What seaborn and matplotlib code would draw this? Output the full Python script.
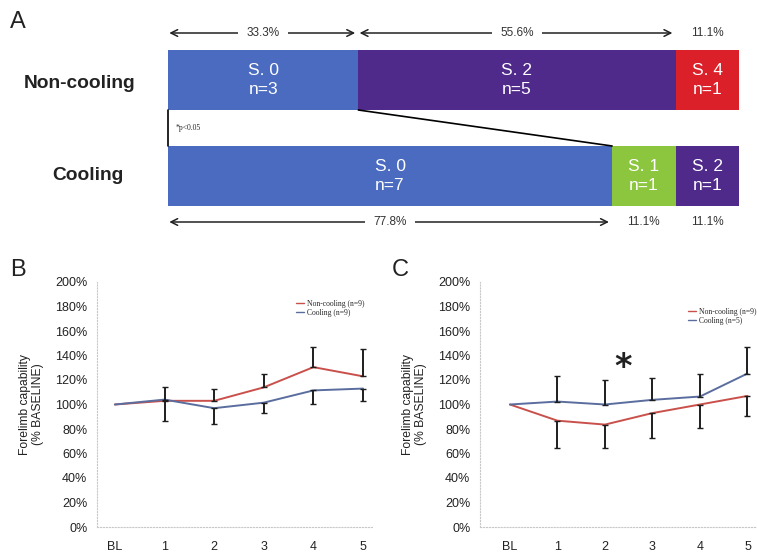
import matplotlib
matplotlib.use("Agg")
import matplotlib.pyplot as plt
from matplotlib.lines import Line2D
import numpy as np
import pandas as pd
import seaborn as sns

# ---- panel A: injury stage distribution ----
nc_stages = ["S. 0", "S. 2", "S. 4"]
nc_counts = [3, 5, 1]
nc_pcts = ["33.3%", "55.6%", "11.1%"]
cool_stages = ["S. 0", "S. 1", "S. 2"]
cool_counts = [7, 1, 1]
cool_pcts = ["77.8%", "11.1%", "11.1%"]

# ---- panels B and C: forelimb capability (% baseline) ----
time_labels = ["BL", "1", "2", "3", "4", "5"]

b_noncool = [100, 103, 103, 114, 130.5, 123]
b_noncool_up = [0, 11, 10, 10.6, 16.5, 22.6]
b_cool = [100, 104, 97, 101.5, 111.5, 113]
b_cool_down = [0, 17.5, 13, 8.5, 11, 10]

c_noncool = [100, 86.8, 83.6, 93, 100, 107]
c_noncool_down = [0, 22, 19.4, 20.2, 19.1, 16.7]
c_cool = [100, 102.4, 100, 103.8, 106.5, 125.3]
c_cool_up = [0, 21, 20, 17.5, 18.3, 21.6]

stage_colors = {"S. 0": "#4a6bbf", "S. 1": "#8cc63e", "S. 2": "#4f2a8b", "S. 4": "#db2029"}
line_colors = {"Non-cooling": "#c9504b", "Cooling": "#5a6d9e"}

sns.set_theme(style="white")
plt.rcParams["font.family"] = ["Liberation Sans", "DejaVu Sans"]

W, H = 757, 555
fig = plt.figure(figsize=(W / 100, H / 100), dpi=100)


def px_axes(left, top, right, bottom):
    return fig.add_axes([left / W, 1 - bottom / H, (right - left) / W, (bottom - top) / H])


def fig_text(x, y, s, **kw):
    fig.text(x / W, 1 - y / H, s, **kw)


# ---------------- panel A ----------------
axA = px_axes(168, 15, 739, 235)
axA.set_xlim(0, sum(nc_counts))
axA.set_ylim(235, 15)
axA.axis("off")

rows = [
    (80, nc_stages, nc_counts, nc_pcts, 33),
    (176, cool_stages, cool_counts, cool_pcts, 222),
]
for yc, stages, counts, pcts, ya in rows:
    left = 0
    for st, n, pct in zip(stages, counts, pcts):
        axA.barh(yc, n, left=left, height=60, color=stage_colors[st], edgecolor="none")
        axA.text(left + n / 2, yc, f"{st}\nn={n}", color="white", ha="center", va="center",
                 fontsize=12.5, linespacing=1.3)
        if n > 1:
            axA.annotate("", xy=(left + 0.02, ya), xytext=(left + n - 0.05, ya),
                         arrowprops=dict(arrowstyle="<->", lw=1.1, color="#222222",
                                         shrinkA=0, shrinkB=0))
            axA.text(left + n / 2, ya, pct, ha="center", va="center", fontsize=8.5,
                     color="#333333",
                     bbox=dict(facecolor="white", edgecolor="none", pad=6))
        else:
            axA.text(left + n / 2, ya, pct, ha="center", va="center", fontsize=8.5,
                     color="#333333")
        left += n

# connector lines between the two bars
axA.plot([0, 0], [110, 146], color="black", lw=1.2, clip_on=False)
axA.plot([nc_counts[0], cool_counts[0]], [110, 146], color="black", lw=1.2, clip_on=False)
axA.text(0.12, 128, "*p<0.05", fontsize=5.5, family="Liberation Serif", va="center")

fig_text(80, 84, "Non-cooling", fontsize=13.8, fontweight="bold", ha="center", va="center",
         color="#222222")
fig_text(88, 176, "Cooling", fontsize=13.8, fontweight="bold", ha="center", va="center",
         color="#222222")
fig_text(10, 22, "A", fontsize=17, va="center", color="#222222")
fig_text(10, 270, "B", fontsize=17, va="center", color="#222222")
fig_text(392, 270, "C", fontsize=17, va="center", color="#222222")


# ---------------- panels B and C ----------------
def draw_panel(ax, noncool, nc_up, nc_down, cool, cl_up, cl_down, n_labels, legend_xy):
    pos = np.arange(len(time_labels))
    df = pd.DataFrame({
        "pos": np.concatenate([pos, pos]),
        "value": noncool + cool,
        "group": ["Non-cooling"] * len(pos) + ["Cooling"] * len(pos),
    })
    sns.lineplot(data=df, x="pos", y="value", hue="group", palette=line_colors,
                 linewidth=1.4, legend=False, ax=ax)
    for vals, up, down in [(noncool, nc_up, nc_down), (cool, cl_up, cl_down)]:
        v = np.array(vals[1:])
        e_up = np.array(up[1:])
        e_dn = np.array(down[1:])
        keep = (e_up + e_dn) > 0
        ax.errorbar(pos[1:][keep], v[keep], yerr=[e_dn[keep], e_up[keep]], fmt="none",
                    ecolor="#1e1e1e", elinewidth=1.4, capsize=2, capthick=1)
    ax.set_ylim(0, 200)
    ax.set_yticks(range(0, 201, 20))
    ax.set_yticklabels([f"{t}%" for t in range(0, 201, 20)])
    ax.set_xticks(pos)
    ax.set_xticklabels(time_labels)
    ax.tick_params(axis="both", length=0, labelsize=9, colors="#222222")
    ax.tick_params(axis="y", pad=7)
    ax.tick_params(axis="x", pad=10)
    ax.set_xlabel("")
    ax.set_ylabel("Forelimb capability\n(% BASELINE)", fontsize=8.7, color="#222222",
                  labelpad=8, linespacing=1.1)
    for side in ["top", "right"]:
        ax.spines[side].set_visible(False)
    for side in ["left", "bottom"]:
        ax.spines[side].set_color("#c8c8c8")
        ax.spines[side].set_linestyle(":")
        ax.spines[side].set_linewidth(0.8)
    handles = [Line2D([], [], color=line_colors["Non-cooling"], lw=1),
               Line2D([], [], color=line_colors["Cooling"], lw=1)]
    ax.legend(handles, [f"Non-cooling (n={n_labels[0]})", f"Cooling (n={n_labels[1]})"],
              loc="upper right", bbox_to_anchor=(legend_xy[0] / W, 1 - legend_xy[1] / H),
              bbox_transform=fig.transFigure, frameon=False, handlelength=1.0,
              handletextpad=0.4, labelspacing=0.1, borderpad=0,
              prop={"family": "Liberation Serif", "size": 5.5})


axB = px_axes(97, 282, 372, 527)
axB.set_xlim(-0.36, 5.18)
draw_panel(axB, b_noncool, b_noncool_up, [0] * 6, b_cool, [0] * 6, b_cool_down, (9, 9),
           (368, 296))

axC = px_axes(480, 282, 757, 527)
axC.set_xlim(-0.63, 5.2)
draw_panel(axC, c_noncool, [0] * 6, c_noncool_down, c_cool, c_cool_up, [0] * 6, (9, 5),
           (760, 304))
axC.text(2.38, 130, "*", fontsize=24, fontweight="bold", family="DejaVu Sans",
         ha="center", va="center", color="#222222")

fig.savefig("out.png", dpi=100)
